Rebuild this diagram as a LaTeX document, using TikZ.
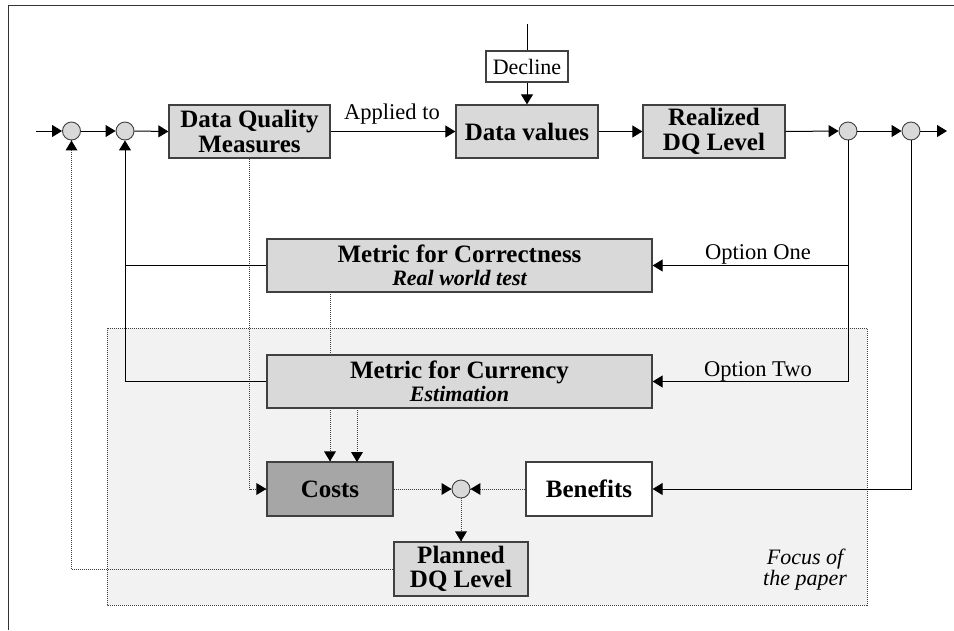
\documentclass[tikz,border=0pt]{standalone}
\usepackage{fontspec}
\setmainfont{Liberation Serif}
\usetikzlibrary{arrows.meta}
\definecolor{boxgray}{HTML}{D9D9D9}
\definecolor{costgray}{HTML}{A6A6A6}
\definecolor{focusgray}{HTML}{F2F2F2}
\definecolor{edgegray}{HTML}{404040}
\pgfdeclarelayer{bg}
\pgfdeclarelayer{mid}
\pgfsetlayers{bg,mid,main}
\begin{document}
\begin{tikzpicture}[x=1pt,y=-1pt,
  blk/.style={draw=edgegray, line width=1.3pt, fill=boxgray, inner sep=0pt, align=center,
    font=\bfseries\fontsize{25}{24.5}\selectfont},
  sumc/.style={circle, draw=edgegray, line width=0.9pt, fill=boxgray, minimum size=18pt, inner sep=0pt},
  lbl/.style={font=\fontsize{22.5}{24}\selectfont, inner sep=0pt},
  arr/.style={line width=1pt, -{Triangle[length=10pt,width=12pt]}},
  ln/.style={line width=1pt},
  dot/.style={line width=0.8pt, black!75, dash pattern=on 1pt off 1pt},
  tipr/.style={fill=black},
]
\useasboundingbox (0,0) rectangle (954,630);
% outer frame
\draw[line width=1pt, black!80] (954,5) -- (8,5) -- (8,630);

% focus area
\begin{pgfonlayer}{bg}
\draw[dot, fill=focusgray] (107,328) rectangle (867,605);
\end{pgfonlayer}
\node[font=\itshape\fontsize{22}{19}\selectfont, align=center, inner sep=0pt] (focus) at (805,570) {Focus of\\the paper};

% main row
\node[blk, minimum width=161pt, minimum height=53pt] (dqm) at (249.5,131.5) {Data Quality\\Measures};
\node[blk, minimum width=142pt, minimum height=53pt] (dv) at (527,131.5) {Data values};
\node[blk, minimum width=142pt, minimum height=53pt] (rdq) at (714,131.5) {Realized\\DQ Level};
\node[draw=edgegray, line width=1.1pt, fill=white, minimum width=82pt, minimum height=31pt, inner sep=0pt,
  font=\fontsize{22}{24}\selectfont] (decl) at (527,66.5) {Decline};

\node[sumc] (c1) at (71.5,131) {};
\node[sumc] (c2) at (125,131) {};
\node[sumc] (c3) at (848,131) {};
\node[sumc] (c4) at (911,131) {};

\coordinate (in) at (36,131);
\coordinate (out) at (947,131);
\coordinate (dtop) at (527,24);

% metrics
\node[blk, minimum width=385pt, minimum height=53pt] (corr) at (459.5,265.5)
  {Metric for Correctness\\[-2pt]{\itshape\fontsize{22}{22}\selectfont Real world test}};
\node[blk, minimum width=385pt, minimum height=53pt] (curr) at (459.5,381.5)
  {Metric for Currency\\[-2pt]{\itshape\fontsize{22}{22}\selectfont Estimation}};

% costs/benefits
\node[blk, fill=costgray, minimum width=126pt, minimum height=54pt] (costs) at (330,489) {Costs};
\node[blk, fill=white, minimum width=126pt, minimum height=54pt] (ben) at (589,489) {Benefits};
\node[sumc] (c5) at (461,489) {};
\node[blk, minimum width=134pt, minimum height=54pt] (plan) at (461,569) {Planned\\DQ Level};

% main connectors
\draw[arr] (in) -- (c1.west);
\draw[arr] (c1.east) -- (c2.west);
\draw[arr] (c2.east) -- (dqm.west);
\draw[arr] (dqm.east) -- (dv.west);
\node[lbl, anchor=base] (applied) at (392,119) {Applied to};
\draw[ln] (dtop) -- (decl.north);
\draw[arr] (decl.south) -- (dv.north);
\draw[arr] (dv.east) -- (rdq.west);
\draw[arr] (rdq.east) -- (c3.west);
\draw[arr] (c3.east) -- (c4.west);
\draw[arr] (c4.east) -- (out);

% options
\draw[arr] (c3.south) |- (curr.east);
\draw[arr] (c3.south |- corr.east) -- (corr.east);
\node[lbl, anchor=base] (opt1) at (758,259) {Option One};
\node[lbl, anchor=base] (opt2) at (758,376) {Option Two};

% feedback to c2
\draw[arr] (curr.west) -| (c2.south);
\draw[ln] (corr.west) -- (c2.south |- corr.west);

% benefits
\draw[arr] (c4.south) |- (ben.east);

% dotted connectors
\begin{pgfonlayer}{mid}
\draw[dot] (dqm.south) |- (costs.west);
\draw[dot] (330,292) -- (330,462);
\draw[dot] (357,408) -- (357,462);
\end{pgfonlayer}
\fill[tipr] (costs.west) -- ++(-10,-6) -- ++(0,12) -- cycle;
\fill[tipr] (costs.north) -- ++(-6,-10) -- ++(12,0) -- cycle;
\fill[tipr] (357,462) -- ++(-6,-10) -- ++(12,0) -- cycle;
\draw[dot] (costs.east) -- (c5.west);
\fill[tipr] (c5.west) -- ++(-10,-6) -- ++(0,12) -- cycle;
\draw[dot] (ben.west) -- (c5.east);
\fill[tipr] (c5.east) -- ++(10,-6) -- ++(0,12) -- cycle;
\draw[dot] (c5.south) -- (plan.north);
\fill[tipr] (plan.north) -- ++(-6,-10) -- ++(12,0) -- cycle;
\draw[dot] (plan.west) -| (c1.south);
\fill[tipr] (c1.south) -- ++(-6,10) -- ++(12,0) -- cycle;
\end{tikzpicture}
\end{document}
